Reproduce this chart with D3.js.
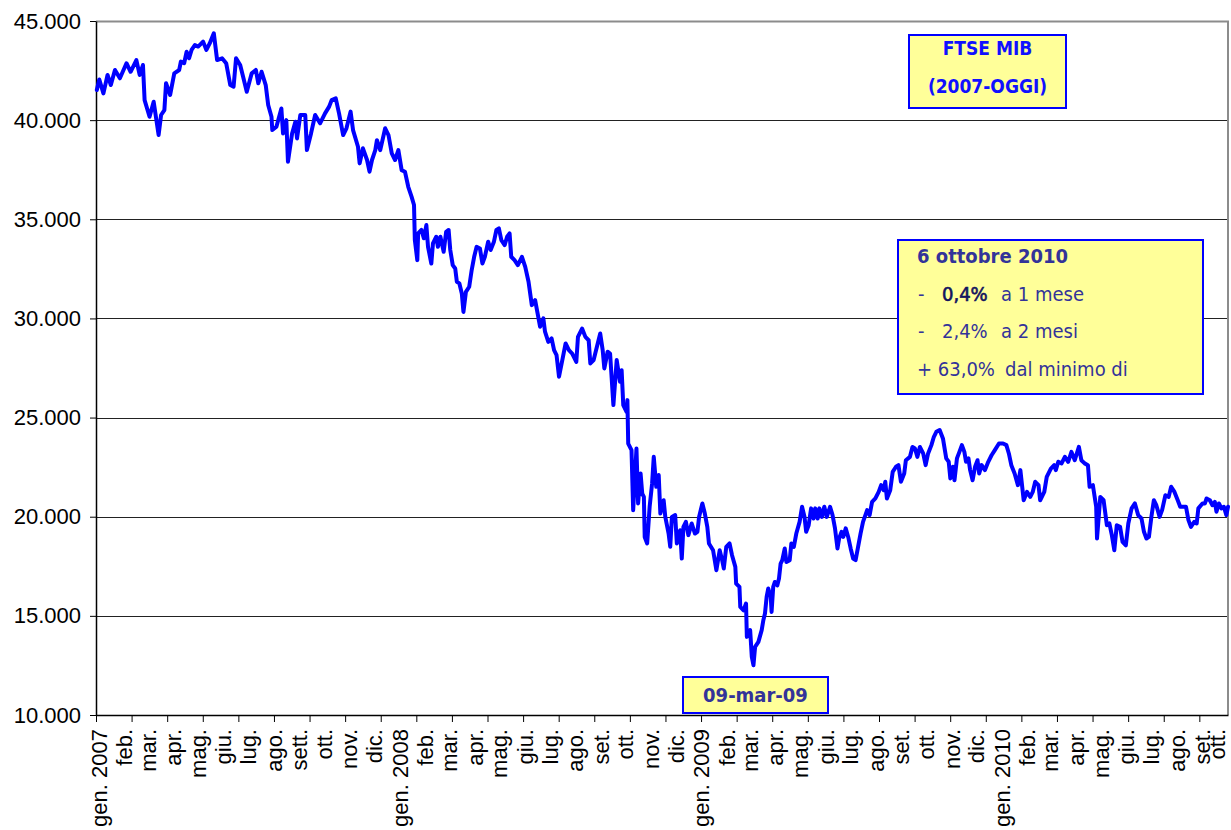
<!DOCTYPE html>
<html><head><meta charset="utf-8">
<script src="https://cdn.jsdelivr.net/npm/d3@7"></script>
<style>html,body{margin:0;padding:0;background:#fff;} svg{display:block;}</style>
</head><body><svg id="chart" width="1231" height="830"></svg>
<script>
// ---------- DATA (FTSE MIB closes) ----------
const days2007 = ["01-02","01-05","01-10","01-15","01-19","01-24","01-30","02-07","02-12","02-19","02-23","02-27","03-01","03-07","03-12","03-18","03-21","03-25","03-27","04-01","04-06","04-12","04-14","04-18","04-21","04-24","04-27","05-01","05-05","05-11","05-15","05-19","05-24","05-28","06-03","06-08","06-13","06-17","06-20","06-25","06-29","07-03","07-09","07-14","07-17","07-21","07-26","07-29","08-02","08-03","08-08","08-14","08-16","08-20","08-22","08-27","08-31","09-02","09-06","09-12","09-14","09-19","09-24","09-30","10-06","10-11","10-14","10-19","10-23","10-28","11-01","11-06","11-09","11-15","11-17","11-21","11-26","11-29","12-02","12-06","12-08","12-12","12-18","12-22","12-26","12-30"];
const vals2007 = [41520,42050,41350,42280,41770,42530,42110,42870,42440,43030,42280,42780,41010,40170,40930,39250,40260,40510,41860,41270,42360,42530,42950,42870,43450,43120,43540,43790,43710,43960,43540,43870,44380,43030,43120,42870,41770,41690,43120,42780,42110,41430,42360,42530,41860,42440,41770,40760,40170,39500,39670,40590,39330,40000,37900,39330,39920,39080,40260,40260,38490,39330,40260,39840,40340,40680,41010,41100,40340,39250,39590,40430,39500,38660,37820,38580,37990,37400,37990,38490,38990,38490,39590,39250,38320,37990];
const days2008 = ["01-03","01-07","01-11","01-15","01-19","01-22","01-23","01-26","01-27","01-31","02-03","02-06","02-08","02-12","02-14","02-18","02-20","02-23","02-27","03-01","03-04","03-06","03-09","03-12","03-14","03-17","03-20","03-22","03-25","03-29","04-01","04-04","04-07","04-11","04-14","04-17","04-21","04-24","04-28","05-01","05-04","05-07","05-11","05-14","05-17","05-19","05-23","05-27","06-01","06-05","06-09","06-13","06-17","06-20","06-23","06-27","06-29","07-03","07-07","07-10","07-13","07-16","07-20","07-24","07-28","08-01","08-06","08-08","08-13","08-17","08-21","08-23","08-27","08-31","09-04","09-07","09-09","09-13","09-16","09-20","09-24","09-28","09-30","10-02","10-06","10-07","10-08","10-12","10-14","10-18","10-20","10-23","10-25","10-27","10-28","10-31","11-03","11-06","11-08","11-11","11-14","11-16","11-20","11-22","11-26","11-28","11-30","12-04","12-06","12-10","12-12","12-14","12-17","12-20","12-24","12-28","12-31"];
const vals2008 = [38490,37480,37400,36640,36140,35720,33950,32940,34290,34460,34040,34710,33610,32770,33780,34120,33610,34120,33360,34370,34460,33450,32690,32520,31850,31770,31260,30330,31340,31600,32440,33110,33610,33530,32770,33110,33870,33450,33870,34460,34540,33950,33700,34120,34290,33110,32940,32690,33110,32600,31850,30670,30920,30250,29580,30000,29330,28820,28990,28400,28150,27060,27900,28740,28400,28230,27810,29070,29490,29070,28900,27730,27900,28570,29240,28400,27480,28320,28230,25630,27900,26810,27390,25630,25290,25880,23690,23360,20330,23440,20670,22180,21170,21000,18980,18650,20500,21680,23020,21510,22100,20160,20830,19990,19150,18480,19990,20080,18650,19320,17890,19490,19740,19070,19660,19150,19240];
const days2009 = ["01-02","01-06","01-09","01-12","01-14","01-19","01-23","01-27","01-30","02-01","02-04","02-08","02-11","02-15","02-16","02-20","02-21","02-25","02-28","03-01","03-05","03-07","03-09","03-11","03-15","03-19","03-21","03-23","03-25","03-27","03-30","03-31","04-02","04-04","04-07","04-09","04-11","04-13","04-16","04-18","04-22","04-24","04-27","04-30","05-04","05-07","05-10","05-12","05-15","05-18","05-21","05-23","05-26","05-28","05-31","06-03","06-06","06-10","06-13","06-16","06-19","06-21","06-24","06-26","06-29","07-02","07-05","07-08","07-11","07-14","07-17","07-20","07-25","07-28","07-31","08-04","08-08","08-11","08-14","08-16","08-18","08-22","08-25","08-29","09-01","09-04","09-08","09-10","09-15","09-18","09-21","09-24","09-27","10-01","10-04","10-07","10-11","10-14","10-17","10-21","10-25","10-29","11-01","11-03","11-06","11-08","11-11","11-14","11-17","11-20","11-22","11-25","11-27","11-30","12-03","12-06","12-08","12-11","12-15","12-19","12-23","12-27"];
const vals2009 = [19990,20670,20160,19490,18650,18310,17300,18310,17810,17390,18480,18650,18060,17470,16630,16460,15450,15280,15620,13940,14280,12930,12510,13440,13690,14280,14780,15120,15960,16380,15960,15200,16460,16710,16540,16880,17640,17810,18400,17720,17810,18650,18480,19150,19740,20500,19990,19240,19570,20420,19910,20420,19910,20420,19990,20500,19990,20500,20080,19410,18400,18900,19240,18980,19410,18980,18400,17890,17810,18480,19150,19740,20330,20080,20750,20920,21250,21590,21340,21760,20920,21340,22260,22520,22600,21760,22180,22850,23020,23520,23440,23020,23520,23190,22600,23190,23610,24030,24280,24370,23950,22940,22770,21930,22520,21840,22940,23270,23610,23270,22770,22940,22350,21840,22520,22850,22180,22600,22350,22770,23100,23360];
const days2010 = ["01-01","01-06","01-10","01-13","01-16","01-20","01-24","01-27","01-31","02-04","02-08","02-11","02-14","02-18","02-20","02-25","02-28","03-05","03-09","03-11","03-14","03-18","03-22","03-26","03-30","04-03","04-08","04-11","04-15","04-19","04-21","04-25","04-29","04-30","05-04","05-08","05-12","05-15","05-18","05-21","05-24","05-28","05-31","06-04","06-07","06-11","06-15","06-19","06-23","06-26","06-29","07-02","07-05","07-08","07-11","07-15","07-18","07-22","07-26","07-29","08-02","08-06","08-09","08-13","08-16","08-19","08-22","08-26","08-29","08-31","09-05","09-08","09-10","09-14","09-17","09-20","09-22","09-25","09-28","10-01","10-04","10-06"];
const vals2010 = [23690,23690,23610,23190,22600,22180,21590,22350,20830,21250,21000,21250,21760,21590,20830,21250,22010,22430,22600,22350,22770,22690,23020,22770,23270,22850,23520,22850,22690,22600,21510,21590,20500,18900,21000,20830,19570,19660,19070,18310,19570,19490,18730,18560,19660,20420,20670,20080,19910,19240,18900,18980,19990,20830,20580,19990,20330,21080,21000,21510,21250,20830,20500,20500,20500,19830,19490,19740,19660,20420,20670,20670,20920,20830,20580,20750,20250,20670,20420,20500,20080,20500];

const yTicks = [10000,15000,20000,25000,30000,35000,40000,45000];
const monthLabels = [
  "gen. 2007","feb.","mar.","apr.","mag.","giu.","lug.","ago.","sett.","ott.","nov.","dic.",
  "gen. 2008","feb.","mar.","apr.","mag.","giu.","lug.","ago.","set.","ott.","nov.","dic.",
  "gen. 2009","feb.","mar.","apr.","mag.","giu.","lug.","ago.","set.","ott.","nov.","dic.",
  "gen. 2010","feb.","mar.","apr.","mag.","giu.","lug.","ago.","set.","ott."];
const titleLines = ["FTSE MIB","(2007-OGGI)"];
const noteTitle = "6 ottobre 2010";
const noteRows = [["-","0,4%","a 1 mese"],["-","2,4%","a 2 mesi"],["+ 63,0%","","dal minimo di"]];
const minLabel = "09-mar-09";
const tickStepDays = 43.2; // tick marks every ~30 trading sessions

// ---------- BUILD ----------
const parse = d3.timeParse("%Y-%m-%d");
function yearSeries(year, days, vals){ return days.map((d,i)=>({date: parse(year+"-"+d), value: vals[i]})); }
const data = [].concat(
  yearSeries(2007, days2007, vals2007),
  yearSeries(2008, days2008, vals2008),
  yearSeries(2009, days2009, vals2009),
  yearSeries(2010, days2010, vals2010));

const svg = d3.select("#chart");
const W = 1231;
const L = 96, R = 1228, T = 21, B = 715;
const startDate = new Date(2007,0,1), endDate = new Date(2010,9,6);
const x = d3.scaleTime().domain([startDate, endDate]).range([L, R]);
const y = d3.scaleLinear().domain([10000,45000]).range([B, T]);
const it = d3.formatLocale({decimal:",", thousands:".", grouping:[3], currency:["€",""]});
const fmt = it.format(",");
const axisFont = "'Liberation Sans', Arial, sans-serif";
const boxFont = "'DejaVu Sans Condensed', 'DejaVu Sans', sans-serif";
const axisSize = 22;

// gridlines
svg.append("g").selectAll("line").data(yTicks.filter(v=>v>10000 && v<45000)).join("line")
  .attr("x1", L).attr("x2", R).attr("y1", d=>Math.round(y(d))+0.5).attr("y2", d=>Math.round(y(d))+0.5)
  .attr("stroke", "#222").attr("stroke-width", 1);
// plot border top / right
svg.append("path").attr("d", `M${L},${T+0.5}H${R}V${B}`).attr("fill","none").attr("stroke","#8c8c8c").attr("stroke-width",2);

// y axis
const gy = svg.append("g").attr("transform", `translate(${L},0)`)
  .call(d3.axisLeft(y).tickValues(yTicks).tickFormat(fmt).tickSize(6).tickSizeOuter(0).tickPadding(9));
gy.select(".domain").attr("stroke","#000").attr("stroke-width",1.5);
gy.selectAll(".tick line").attr("stroke","#000");
gy.selectAll("text").attr("font-family", axisFont).attr("font-size", axisSize).attr("fill","#000");

// x axis (tick marks)
const tickDates = d3.range(0, 32).map(i => new Date(startDate.getTime() + i*tickStepDays*864e5));
const gx = svg.append("g").attr("transform", `translate(0,${B})`)
  .call(d3.axisBottom(x).tickValues(tickDates).tickFormat("").tickSize(7).tickSizeOuter(0));
gx.select(".domain").attr("stroke","#000").attr("stroke-width",1.5);
gx.selectAll(".tick line").attr("stroke","#000");

// month labels
const monthDates = d3.timeMonth.range(startDate, new Date(2010,9,2));
svg.append("g").selectAll("text").data(monthDates).join("text")
  .attr("transform", d => `translate(${Math.min(x(d)+3, W-14)},${729}) rotate(-90)`)
  .attr("text-anchor","end").attr("dy","0.36em")
  .attr("font-family", axisFont).attr("font-size", axisSize).attr("fill","#000")
  .text((d,i)=>monthLabels[i]);

// line
const line = d3.line().x(d=>x(d.date)).y(d=>y(d.value));
svg.append("path").datum(data).attr("d", line)
  .attr("fill","none").attr("stroke","#0000ff").attr("stroke-width",4)
  .attr("stroke-linejoin","round").attr("stroke-linecap","round");

// boxes
function box(x0,y0,w,h){
  svg.append("rect").attr("x",x0).attr("y",y0).attr("width",w).attr("height",h)
    .attr("fill","#ffff99").attr("stroke","#0000ff").attr("stroke-width",2);
}
box(909,35,157,73);
svg.append("g").selectAll("text").data(titleLines).join("text")
  .attr("x",987.5).attr("y",(d,i)=>55+i*38).attr("text-anchor","middle")
  .attr("font-family", boxFont).attr("font-weight","bold").attr("font-size",19).attr("fill","#1010ff")
  .text(d=>d);

box(898,240,305,154);
svg.append("text").attr("x",917).attr("y",263).attr("font-family",boxFont).attr("font-weight","bold")
  .attr("font-size",20).attr("fill","#333399").text(noteTitle);
const rowY = [301,338,376];
noteRows.forEach((r,i)=>{
  const t = svg.append("text").attr("y",rowY[i]).attr("font-family",boxFont).attr("font-size",20).attr("fill","#333399");
  if(i<2){
    t.append("tspan").attr("x",918).text(r[0]);
    t.append("tspan").attr("x",942).attr("fill", i===0?"#14145e":"#333399")
      .attr("stroke", i===0?"#14145e":"none").attr("stroke-width",0.6).text(r[1]);
    t.append("tspan").attr("x",1001).text(r[2]);
  } else {
    t.append("tspan").attr("x",917).text(r[0]);
    t.append("tspan").attr("x",1005).text(r[2]);
  }
});

box(683,677,145,36);
svg.append("text").attr("x",755.5).attr("y",702).attr("text-anchor","middle")
  .attr("font-family",boxFont).attr("font-weight","bold").attr("font-size",20).attr("fill","#333399").text(minLabel);
</script></body></html>
